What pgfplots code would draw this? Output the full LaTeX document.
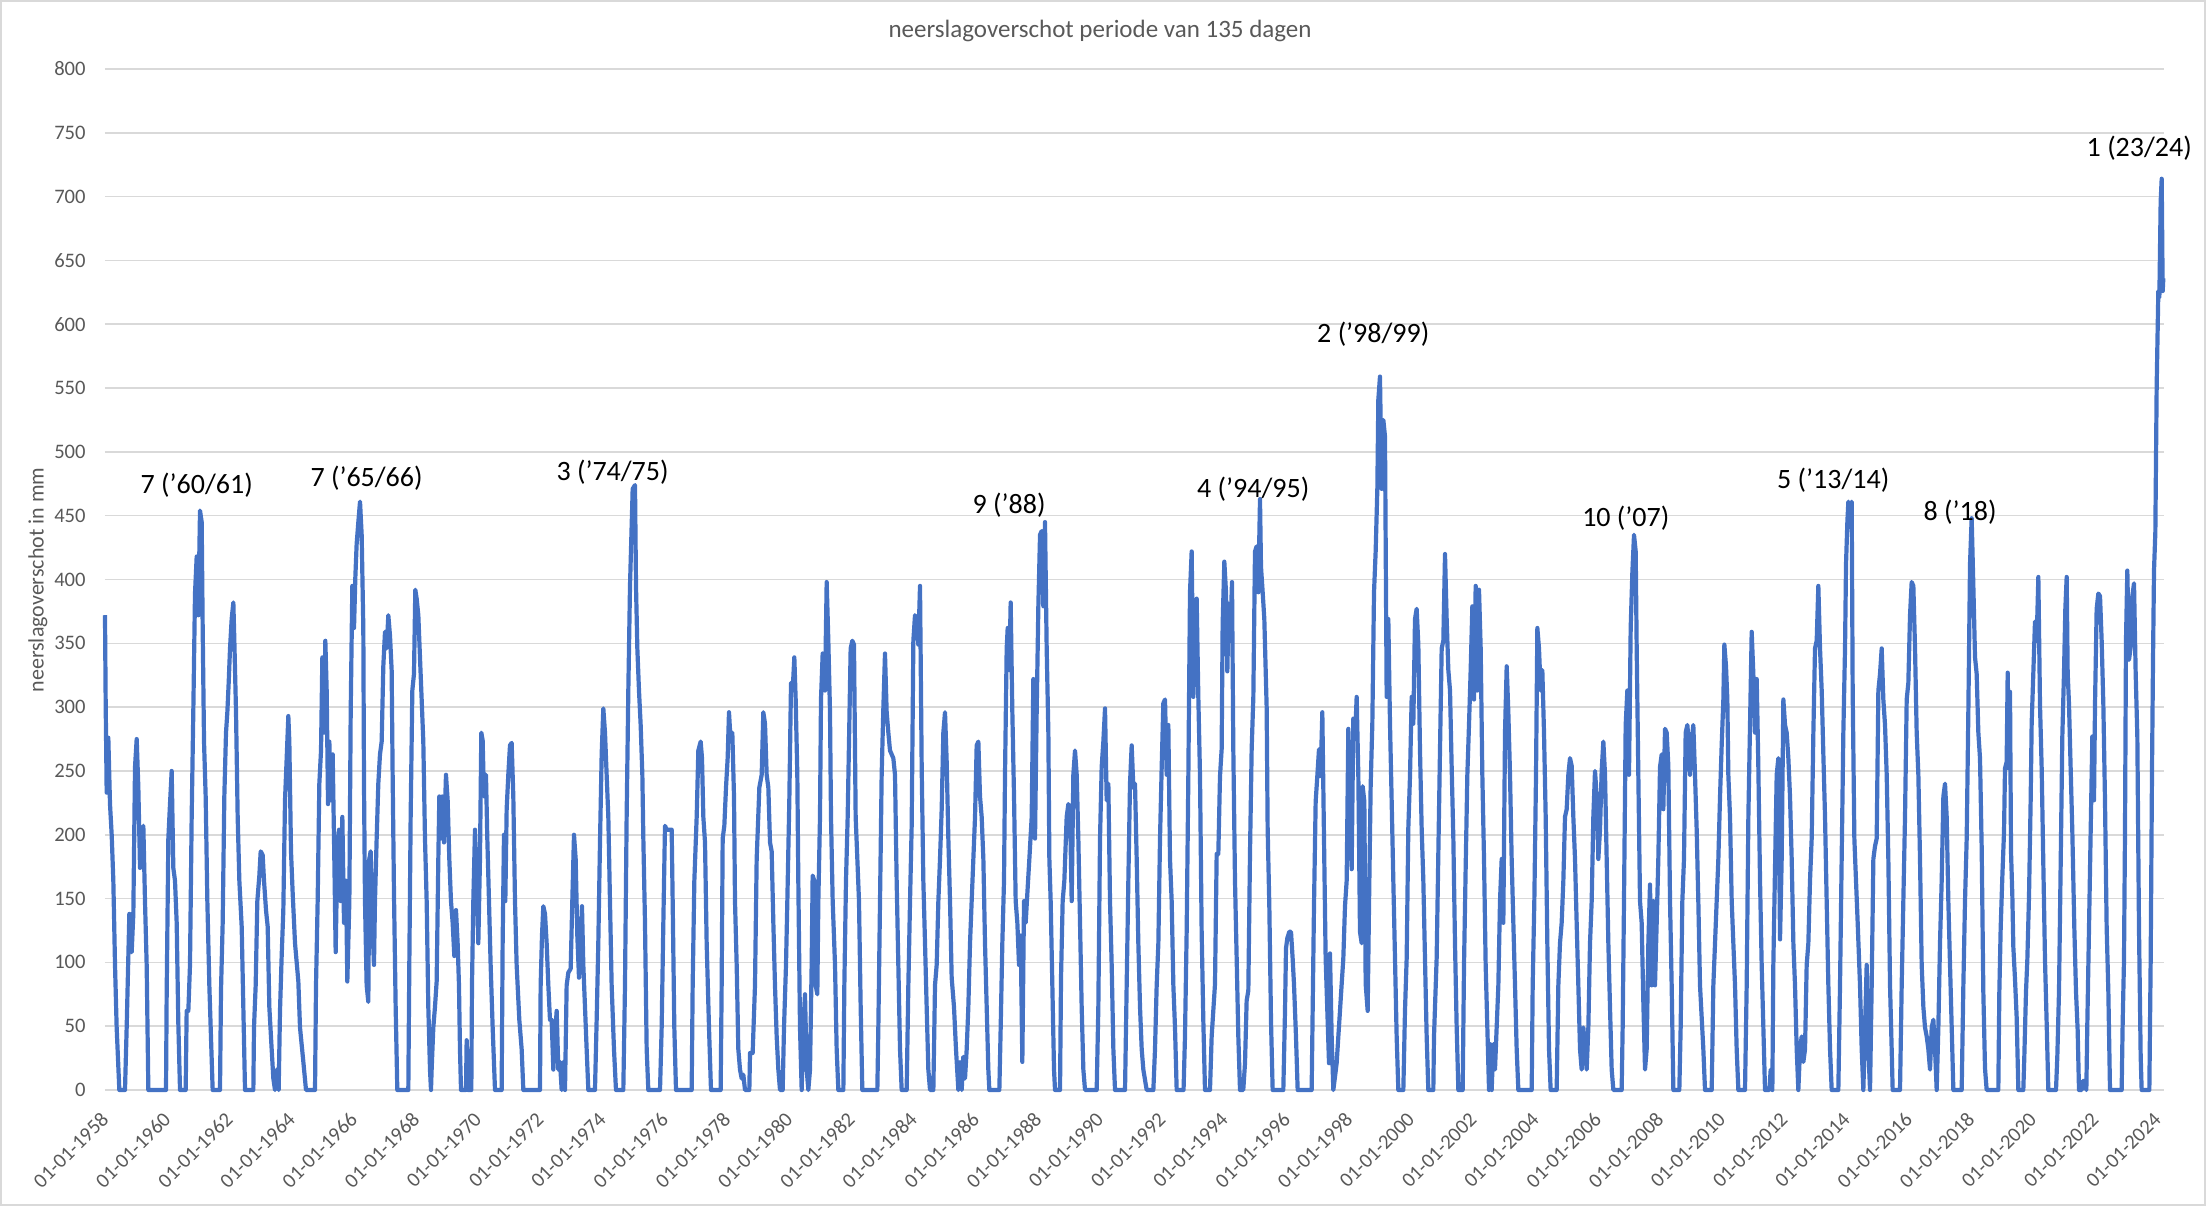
\documentclass[border=0pt]{standalone}
\usepackage{fontspec}
\setmainfont{Carlito}
\usepackage{pgfplots}
\pgfplotsset{compat=1.18}
\definecolor{xlblue}{HTML}{4472C4}
\definecolor{gridgray}{HTML}{D9D9D9}
\definecolor{txtgray}{HTML}{595959}

\begin{document}
\begin{tikzpicture}
\path[use as bounding box] (-52.5pt,-58pt) rectangle (1050.5pt,545pt);
\draw[gridgray, line width=0.8pt] (-52pt,-57.5pt) rectangle (1050pt,544.5pt);
\begin{axis}[
  at={(0pt,0pt)}, anchor=south west,
  scale only axis, width=1029.3pt, height=510.5pt,
  xmin=1958, xmax=2024.19, ymin=0, ymax=800,
  ytick={0,50,...,800},
  xtick={1958,1960,...,2024},
  xticklabels={01-01-1958,01-01-1960,01-01-1962,01-01-1964,01-01-1966,01-01-1968,01-01-1970,01-01-1972,01-01-1974,01-01-1976,01-01-1978,01-01-1980,01-01-1982,01-01-1984,01-01-1986,01-01-1988,01-01-1990,01-01-1992,01-01-1994,01-01-1996,01-01-1998,01-01-2000,01-01-2002,01-01-2004,01-01-2006,01-01-2008,01-01-2010,01-01-2012,01-01-2014,01-01-2016,01-01-2018,01-01-2020,01-01-2022,01-01-2024},
  axis line style={draw=none},
  major tick length=0pt,
  ymajorgrids, grid style={gridgray, line width=0.8pt},
  tick label style={font=\fontsize{10.3}{12}\selectfont, text=txtgray},
  /pgf/number format/assume math mode=true,
  xticklabel style={rotate=45, anchor=east, inner sep=0pt},
  xticklabel shift=13pt,
  yticklabel style={anchor=east, inner sep=0pt},
  yticklabel shift=9.5pt,
  clip=false,
]
\addplot[xlblue, line width=2.1pt, line join=round] coordinates {
% 1958-1961
(1958.000,372) (1958.022,303) (1958.054,233) (1958.107,276) (1958.161,224) (1958.215,200) (1958.268,164) (1958.322,98) (1958.375,49) (1958.461,0)
(1958.643,0) (1958.697,49) (1958.783,138) (1958.858,108) (1958.911,138) (1958.965,253) (1959.019,275) (1959.072,237) (1959.126,174) (1959.179,200) (1959.233,207) (1959.286,148) (1959.340,98) (1959.394,0)
(1959.962,0) (1959.983,75) (1960.037,197) (1960.090,224) (1960.144,250) (1960.197,174) (1960.251,164) (1960.305,131) (1960.358,52) (1960.412,0)
(1960.594,0) (1960.626,62) (1960.680,62) (1960.733,98) (1960.787,214) (1960.841,299) (1960.894,389) (1960.948,418) (1961.001,372) (1961.055,454) (1961.109,445) (1961.141,362) (1961.184,273) (1961.237,230) (1961.291,148) (1961.355,82) (1961.398,49) (1961.462,0)
% 1962-1965
(1961.698,0) (1961.730,78) (1961.784,131) (1961.837,230) (1961.891,280) (1961.934,296) (1961.977,319) (1962.020,346) (1962.073,369) (1962.127,382) (1962.159,352) (1962.213,296) (1962.266,214) (1962.320,164) (1962.395,128) (1962.448,65) (1962.502,0)
(1962.770,0) (1962.791,49) (1962.845,82) (1962.898,148) (1962.963,168) (1963.006,187) (1963.070,184) (1963.113,164) (1963.177,141) (1963.231,128) (1963.284,65) (1963.359,32) (1963.413,9) (1963.466,0) (1963.520,16) (1963.584,0)
(1963.627,62) (1963.681,105) (1963.734,141) (1963.788,227) (1963.842,260) (1963.895,293) (1963.927,273) (1963.981,187) (1964.035,154) (1964.110,115) (1964.217,85) (1964.270,49) (1964.378,22) (1964.463,0)
(1964.753,0) (1964.785,82) (1964.838,148) (1964.892,240) (1964.946,266) (1964.989,339) (1965.042,280) (1965.085,352) (1965.128,313) (1965.171,224) (1965.214,273) (1965.256,227) (1965.321,263) (1965.374,181) (1965.417,108) (1965.471,187) (1965.524,204) (1965.578,148) (1965.632,214) (1965.685,131) (1965.749,164) (1965.792,85) (1965.857,148) (1965.900,296) (1965.953,395) (1966.007,362) (1966.050,402) (1966.092,428) (1966.146,445) (1966.200,461)
% 1966-1969
(1966.253,435) (1966.306,362) (1966.328,240) (1966.360,148) (1966.413,82) (1966.467,69) (1966.499,181) (1966.542,187) (1966.596,131) (1966.649,98) (1966.681,148) (1966.735,197) (1966.788,240) (1966.842,263) (1966.896,273) (1966.949,332) (1967.003,359) (1967.056,346) (1967.110,372) (1967.164,356) (1967.217,329) (1967.249,247) (1967.292,154) (1967.346,65) (1967.399,0)
(1967.753,0) (1967.785,98) (1967.828,214) (1967.882,313) (1967.935,326) (1967.978,392) (1968.021,385) (1968.075,372) (1968.128,339) (1968.182,306) (1968.235,273) (1968.289,197) (1968.343,148) (1968.396,65) (1968.450,16) (1968.482,0)
(1968.503,16) (1968.557,49) (1968.610,65) (1968.664,85) (1968.718,181) (1968.750,230) (1968.793,197) (1968.846,230) (1968.900,194) (1968.964,247) (1969.018,227) (1969.071,181) (1969.125,148) (1969.179,131) (1969.232,105) (1969.286,141) (1969.339,115) (1969.382,82) (1969.414,32) (1969.447,0)
(1969.607,0) (1969.629,39) (1969.672,0) (1969.779,0)
% 1970-1973
(1969.800,82) (1969.843,148) (1969.897,204) (1969.950,164) (1970.004,115) (1970.057,181) (1970.100,280) (1970.143,274) (1970.186,230) (1970.250,247) (1970.293,197) (1970.347,148) (1970.400,98) (1970.465,49) (1970.540,0)
(1970.754,0) (1970.786,115) (1970.829,200) (1970.872,148) (1970.915,220) (1970.968,247) (1971.022,270) (1971.076,272) (1971.129,230) (1971.183,148) (1971.236,98) (1971.322,55) (1971.397,32) (1971.451,0)
(1971.987,0) (1972.008,82) (1972.051,121) (1972.094,144) (1972.148,138) (1972.201,115) (1972.255,82) (1972.308,55) (1972.362,55) (1972.416,16) (1972.469,42) (1972.523,62) (1972.576,16) (1972.630,22) (1972.684,0) (1972.737,22) (1972.791,0)
(1972.844,82) (1972.898,92) (1972.973,95) (1973.026,148) (1973.080,200) (1973.134,181) (1973.187,121) (1973.241,88) (1973.294,115) (1973.337,144) (1973.380,98) (1973.434,65) (1973.487,32) (1973.541,0)
% 1974-1977
(1973.755,0) (1973.809,55) (1973.862,115) (1973.916,194) (1973.970,263) (1974.023,299) (1974.077,280) (1974.130,247) (1974.184,214) (1974.237,148) (1974.291,82) (1974.366,32) (1974.430,0)
(1974.666,0) (1974.720,82) (1974.773,214) (1974.827,313) (1974.881,395) (1974.967,471) (1975.042,474) (1975.074,395) (1975.117,346) (1975.170,313) (1975.224,286) (1975.278,247) (1975.310,197) (1975.363,131) (1975.417,32) (1975.470,0)
(1975.846,0) (1975.899,49) (1975.953,131) (1976.006,207) (1976.060,204) (1976.114,204) (1976.221,204) (1976.253,148) (1976.306,49) (1976.360,0)
(1976.864,0) (1976.896,82) (1976.950,164) (1977.025,214) (1977.078,266) (1977.153,273) (1977.196,260) (1977.239,214) (1977.293,194) (1977.346,115) (1977.421,49) (1977.485,0)
% 1978-1981
(1977.796,0) (1977.828,82) (1977.861,197) (1977.914,207) (1977.968,237) (1978.021,260) (1978.064,296) (1978.118,273) (1978.171,280) (1978.225,230) (1978.257,148) (1978.311,98) (1978.364,32) (1978.418,16) (1978.472,9) (1978.525,12) (1978.579,0)
(1978.718,0) (1978.740,29) (1978.825,29) (1978.900,82) (1978.954,181) (1979.040,237) (1979.115,247) (1979.168,296) (1979.222,287) (1979.275,247) (1979.329,237) (1979.383,194) (1979.436,187) (1979.490,131) (1979.543,82) (1979.597,42) (1979.651,16) (1979.704,0)
(1979.790,0) (1979.833,49) (1979.897,98) (1979.940,148) (1980.004,227) (1980.058,319) (1980.111,313) (1980.165,339) (1980.208,306) (1980.261,247) (1980.293,164) (1980.347,49) (1980.401,0) (1980.454,49) (1980.508,75) (1980.562,16) (1980.615,0) (1980.669,16)
(1980.722,98) (1980.754,168) (1980.808,164) (1980.851,82) (1980.904,75) (1980.937,148) (1980.990,214) (1981.022,306) (1981.076,342) (1981.151,313) (1981.205,398) (1981.258,352) (1981.312,296) (1981.344,214) (1981.398,148) (1981.473,98) (1981.526,32) (1981.580,0)
% 1982-1985
(1981.741,0) (1981.773,82) (1981.826,164) (1981.880,214) (1981.923,273) (1981.976,346) (1982.030,352) (1982.083,349) (1982.137,214) (1982.191,181) (1982.244,148) (1982.298,65) (1982.351,0)
(1982.834,0) (1982.866,49) (1982.920,148) (1982.973,247) (1983.027,299) (1983.080,342) (1983.134,296) (1983.188,280) (1983.241,266) (1983.348,260) (1983.402,247) (1983.455,164) (1983.509,98) (1983.563,32) (1983.616,0)
(1983.777,0) (1983.831,82) (1983.885,148) (1983.938,207) (1983.992,352) (1984.045,372) (1984.099,369) (1984.152,349) (1984.206,395) (1984.260,253) (1984.313,164) (1984.367,115) (1984.420,65) (1984.474,16) (1984.528,0)
(1984.635,0) (1984.688,82) (1984.742,98) (1984.796,148) (1984.849,181) (1984.903,220) (1984.956,280) (1985.010,296) (1985.064,257) (1985.117,197) (1985.171,148) (1985.224,88) (1985.299,65) (1985.363,32) (1985.439,0) (1985.492,22) (1985.546,0) (1985.599,26) (1985.653,9) (1985.707,32)
% 1986-1989
(1985.760,65) (1985.814,115) (1985.867,148) (1985.921,181) (1985.975,214) (1986.028,270) (1986.082,273) (1986.135,230) (1986.189,214) (1986.243,181) (1986.296,115) (1986.350,65) (1986.403,16) (1986.435,0)
(1986.757,0) (1986.800,49) (1986.853,115) (1986.907,164) (1986.939,247) (1986.993,346) (1987.025,362) (1987.078,329) (1987.121,382) (1987.175,296) (1987.229,230) (1987.282,148) (1987.336,131) (1987.389,98) (1987.443,121) (1987.496,22) (1987.550,148) (1987.604,131) (1987.657,154) (1987.722,181) (1987.797,214) (1987.850,322) (1987.904,197) (1987.957,296) (1988.011,379) (1988.065,435) (1988.118,438) (1988.172,379) (1988.225,445) (1988.279,346) (1988.333,280) (1988.365,181) (1988.407,148) (1988.461,82) (1988.515,16) (1988.547,0)
(1988.708,0) (1988.740,88) (1988.793,148) (1988.847,164) (1988.922,214) (1988.976,224) (1989.029,220) (1989.083,148) (1989.136,247) (1989.190,266) (1989.244,247) (1989.297,197) (1989.351,131) (1989.404,65) (1989.458,16) (1989.512,0)
% 1990-1993
(1989.887,0) (1989.940,65) (1989.994,197) (1990.047,253) (1990.101,273) (1990.155,299) (1990.208,227) (1990.262,240) (1990.315,148) (1990.369,98) (1990.423,32) (1990.476,0)
(1990.798,0) (1990.851,82) (1990.905,164) (1990.958,240) (1991.012,270) (1991.066,237) (1991.119,240) (1991.173,181) (1991.226,115) (1991.280,65) (1991.334,32) (1991.387,16) (1991.494,0)
(1991.709,0) (1991.762,32) (1991.816,82) (1991.870,115) (1991.923,197) (1991.977,253) (1992.030,303) (1992.084,306) (1992.137,247) (1992.191,286) (1992.244,181) (1992.298,148) (1992.352,82) (1992.405,49) (1992.459,0)
(1992.680,0) (1992.726,42) (1992.780,124) (1992.834,246) (1992.887,390) (1992.941,422) (1992.994,308) (1993.048,349) (1993.101,385) (1993.155,308) (1993.209,246) (1993.262,124) (1993.316,54) (1993.369,0)
% 1994-1997
(1993.530,0) (1993.584,42) (1993.691,83) (1993.745,185) (1993.798,185) (1993.852,246) (1993.905,267) (1993.937,365) (1993.991,414) (1994.045,390) (1994.088,328) (1994.130,381) (1994.184,357) (1994.238,398) (1994.280,267) (1994.334,164) (1994.388,103) (1994.441,42) (1994.495,0)
(1994.600,0) (1994.656,21) (1994.709,70) (1994.763,78) (1994.816,185) (1994.870,267) (1994.924,308) (1994.977,422) (1995.031,426) (1995.084,390) (1995.138,463) (1995.170,410) (1995.224,390) (1995.277,369) (1995.352,300) (1995.384,205) (1995.438,144) (1995.492,54) (1995.545,0)
(1995.888,0) (1995.942,62) (1995.974,111) (1996.017,119) (1996.081,124) (1996.135,124) (1996.188,103) (1996.231,83) (1996.295,42) (1996.349,0)
(1996.799,0) (1996.831,62) (1996.874,144) (1996.928,226) (1996.981,246) (1997.035,267) (1997.088,246) (1997.142,296) (1997.196,197) (1997.249,103) (1997.303,62) (1997.357,21) (1997.389,107) (1997.442,42) (1997.496,0)
% 1998-2001
(1997.603,21) (1997.657,42) (1997.710,62) (1997.764,83) (1997.817,103) (1997.871,144) (1997.925,164) (1997.978,283) (1998.032,234) (1998.085,173) (1998.139,291) (1998.193,275) (1998.246,308) (1998.300,246) (1998.353,124) (1998.407,115) (1998.439,238) (1998.493,226) (1998.536,83) (1998.600,62) (1998.643,144) (1998.696,238) (1998.750,287) (1998.804,390) (1998.857,422) (1998.911,471) (1998.943,541) (1998.996,559) (1999.050,471) (1999.104,525) (1999.157,512) (1999.211,308) (1999.264,369) (1999.318,287) (1999.372,226) (1999.425,164) (1999.479,103) (1999.532,42) (1999.586,0)
(1999.747,0) (1999.800,62) (1999.854,103) (1999.907,205) (1999.961,246) (2000.015,308) (2000.068,287) (2000.122,369) (2000.175,377) (2000.229,349) (2000.282,267) (2000.336,205) (2000.390,164) (2000.443,103) (2000.497,42) (2000.550,0)
(2000.711,0) (2000.733,42) (2000.818,103) (2000.872,185) (2000.926,267) (2000.980,346) (2001.033,352) (2001.087,420) (2001.140,369) (2001.194,329) (2001.248,313) (2001.301,253) (2001.355,197) (2001.408,115) (2001.462,49) (2001.516,0)
% 2002-2005
(2001.655,0) (2001.698,98) (2001.751,174) (2001.805,247) (2001.858,286) (2001.912,329) (2001.966,379) (2002.019,306) (2002.073,395) (2002.126,313) (2002.180,392) (2002.234,346) (2002.287,247) (2002.341,181) (2002.394,98) (2002.448,49) (2002.502,0) (2002.534,36) (2002.587,0) (2002.641,36) (2002.694,16)
(2002.748,49) (2002.802,82) (2002.855,148) (2002.909,181) (2002.962,131) (2003.016,280) (2003.070,332) (2003.123,296) (2003.177,247) (2003.230,181) (2003.284,131) (2003.338,82) (2003.391,32) (2003.445,0)
(2003.874,0) (2003.906,82) (2003.959,148) (2004.013,247) (2004.056,362) (2004.109,346) (2004.163,313) (2004.216,329) (2004.270,280) (2004.324,214) (2004.377,115) (2004.431,32) (2004.484,0)
(2004.677,0) (2004.731,82) (2004.784,115) (2004.838,131) (2004.892,164) (2004.945,214) (2004.999,220) (2005.052,247) (2005.106,260) (2005.160,254) (2005.213,214) (2005.267,181) (2005.320,131) (2005.374,82) (2005.428,32) (2005.481,16) (2005.535,49) (2005.588,32) (2005.642,16) (2005.696,49)
% 2006-2009
(2005.749,115) (2005.803,148) (2005.856,214) (2005.910,250) (2005.964,230) (2006.017,181) (2006.071,204) (2006.124,250) (2006.178,273) (2006.232,247) (2006.285,181) (2006.339,115) (2006.392,65) (2006.446,16) (2006.500,0)
(2006.767,0) (2006.799,49) (2006.842,148) (2006.896,286) (2006.950,313) (2007.003,247) (2007.057,362) (2007.110,405) (2007.164,435) (2007.218,422) (2007.250,346) (2007.303,247) (2007.357,148) (2007.410,131) (2007.464,69) (2007.518,16) (2007.571,32) (2007.625,115) (2007.678,161) (2007.732,82) (2007.786,148) (2007.839,82) (2007.893,131) (2007.946,181) (2008.000,253) (2008.054,263) (2008.107,220) (2008.161,283) (2008.214,280) (2008.268,254) (2008.322,148) (2008.375,82) (2008.429,0)
(2008.621,0) (2008.664,49) (2008.718,148) (2008.771,181) (2008.825,280) (2008.879,286) (2008.921,273) (2008.964,247) (2009.018,273) (2009.071,286) (2009.125,247) (2009.179,204) (2009.232,148) (2009.286,82) (2009.393,32) (2009.447,0)
% 2010-2013
(2009.662,0) (2009.715,82) (2009.769,115) (2009.822,148) (2009.876,181) (2009.930,230) (2009.983,270) (2010.037,306) (2010.069,349) (2010.122,332) (2010.165,306) (2010.197,247) (2010.251,214) (2010.305,148) (2010.358,115) (2010.412,82) (2010.465,32) (2010.519,0)
(2010.733,0) (2010.787,82) (2010.841,214) (2010.894,286) (2010.948,359) (2011.001,326) (2011.055,280) (2011.109,322) (2011.162,253) (2011.216,164) (2011.269,98) (2011.323,49) (2011.376,0)
(2011.516,0) (2011.559,16) (2011.612,0) (2011.644,98) (2011.698,174) (2011.752,247) (2011.805,260) (2011.859,118) (2011.912,181) (2011.966,306) (2012.020,286) (2012.073,280) (2012.127,260) (2012.180,230) (2012.234,181) (2012.288,115) (2012.341,82) (2012.395,32) (2012.448,0)
(2012.502,32) (2012.556,42) (2012.609,22) (2012.663,32) (2012.716,98) (2012.770,115) (2012.823,164) (2012.877,197) (2012.931,280) (2012.984,346) (2013.038,352) (2013.091,395) (2013.145,346) (2013.199,313) (2013.252,263) (2013.306,214) (2013.359,148) (2013.413,82) (2013.467,32) (2013.520,0)
% 2014-2017
(2013.734,0) (2013.788,82) (2013.841,181) (2013.895,280) (2013.949,346) (2013.981,412) (2014.024,445) (2014.056,461) (2014.110,451) (2014.163,461) (2014.195,313) (2014.249,197) (2014.302,164) (2014.356,131) (2014.431,82) (2014.485,32) (2014.538,0) (2014.592,49) (2014.645,98) (2014.699,32) (2014.753,0)
(2014.806,82) (2014.860,181) (2014.913,191) (2014.967,197) (2015.021,313) (2015.074,326) (2015.128,346) (2015.181,306) (2015.235,286) (2015.289,247) (2015.342,181) (2015.396,82) (2015.449,32) (2015.481,0)
(2015.717,0) (2015.771,82) (2015.824,148) (2015.878,214) (2015.932,306) (2015.985,319) (2016.039,372) (2016.092,398) (2016.146,395) (2016.200,346) (2016.253,280) (2016.307,247) (2016.360,181) (2016.414,98) (2016.468,65) (2016.521,49) (2016.575,42) (2016.628,32) (2016.682,16) (2016.736,49) (2016.789,55) (2016.843,32) (2016.896,0)
(2016.950,49) (2017.003,115) (2017.057,164) (2017.111,230) (2017.164,240) (2017.218,214) (2017.271,148) (2017.325,98) (2017.379,49) (2017.432,0)
% 2018-2021
(2017.700,0) (2017.754,82) (2017.807,148) (2017.861,197) (2017.914,296) (2017.968,412) (2018.021,448) (2018.075,395) (2018.129,339) (2018.182,326) (2018.236,280) (2018.289,260) (2018.343,190) (2018.396,77) (2018.450,17) (2018.503,0)
(2018.878,0) (2018.911,77) (2018.954,127) (2019.007,167) (2019.061,202) (2019.093,252) (2019.146,257) (2019.179,327) (2019.221,252) (2019.254,312) (2019.286,187) (2019.329,152) (2019.361,112) (2019.414,87) (2019.468,57) (2019.522,0)
(2019.682,0) (2019.715,27) (2019.768,77) (2019.811,102) (2019.865,152) (2019.918,227) (2019.950,287) (2020.004,327) (2020.057,367) (2020.111,352) (2020.165,402) (2020.218,302) (2020.272,252) (2020.325,177) (2020.379,102) (2020.433,52) (2020.486,0)
(2020.733,0) (2020.776,27) (2020.829,77) (2020.883,177) (2020.936,277) (2020.990,327) (2021.033,377) (2021.076,402) (2021.108,327) (2021.151,302) (2021.204,252) (2021.258,202) (2021.322,127) (2021.376,77) (2021.429,47) (2021.472,0)
% 2022-2024
(2021.558,0) (2021.590,7) (2021.676,7) (2021.708,0) (2021.740,52) (2021.794,127) (2021.847,202) (2021.901,277) (2021.955,227) (2021.987,302) (2022.040,377) (2022.094,389) (2022.148,387) (2022.201,352) (2022.255,302) (2022.308,227) (2022.362,127) (2022.416,77) (2022.469,0)
(2022.844,0) (2022.876,52) (2022.919,102) (2022.951,202) (2022.983,352) (2023.026,407) (2023.080,337) (2023.133,347) (2023.187,387) (2023.241,397) (2023.294,327) (2023.348,277) (2023.401,127) (2023.455,27) (2023.487,0)
(2023.734,0) (2023.777,102) (2023.820,252) (2023.852,337) (2023.884,407) (2023.927,437) (2023.970,552) (2024.023,626) (2024.056,621) (2024.098,696) (2024.131,714) (2024.163,626) (2024.184,636)
};
\begin{scope}[every node/.style={font=\fontsize{14}{16}\selectfont, text=black}]
\node at (axis cs:1960.95,474) {7 (’60/61)};
\node at (axis cs:1966.41,479) {7 (’65/66)};
\node at (axis cs:1974.32,484) {3 (’74/75)};
\node at (axis cs:1987.07,458) {9 (’88)};
\node at (axis cs:1994.92,471) {4 (’94/95)};
\node at (axis cs:1998.78,592) {2 (’98/99)};
\node at (axis cs:2006.90,448) {10 (’07)};
\node at (axis cs:2013.57,478) {5 (’13/14)};
\node at (axis cs:2017.65,453) {8 (’18)};
\node at (axis cs:2023.41,738) {1 (23/24)};
\end{scope}
\end{axis}
\node[font=\fontsize{12.5}{15}\selectfont, text=txtgray] at (497.5pt,529.5pt) {neerslagoverschot periode van 135 dagen};
\node[font=\fontsize{11}{13}\selectfont, text=txtgray, rotate=90] at (-33.5pt,255pt) {neerslagoverschot in mm};
\end{tikzpicture}
\end{document}
